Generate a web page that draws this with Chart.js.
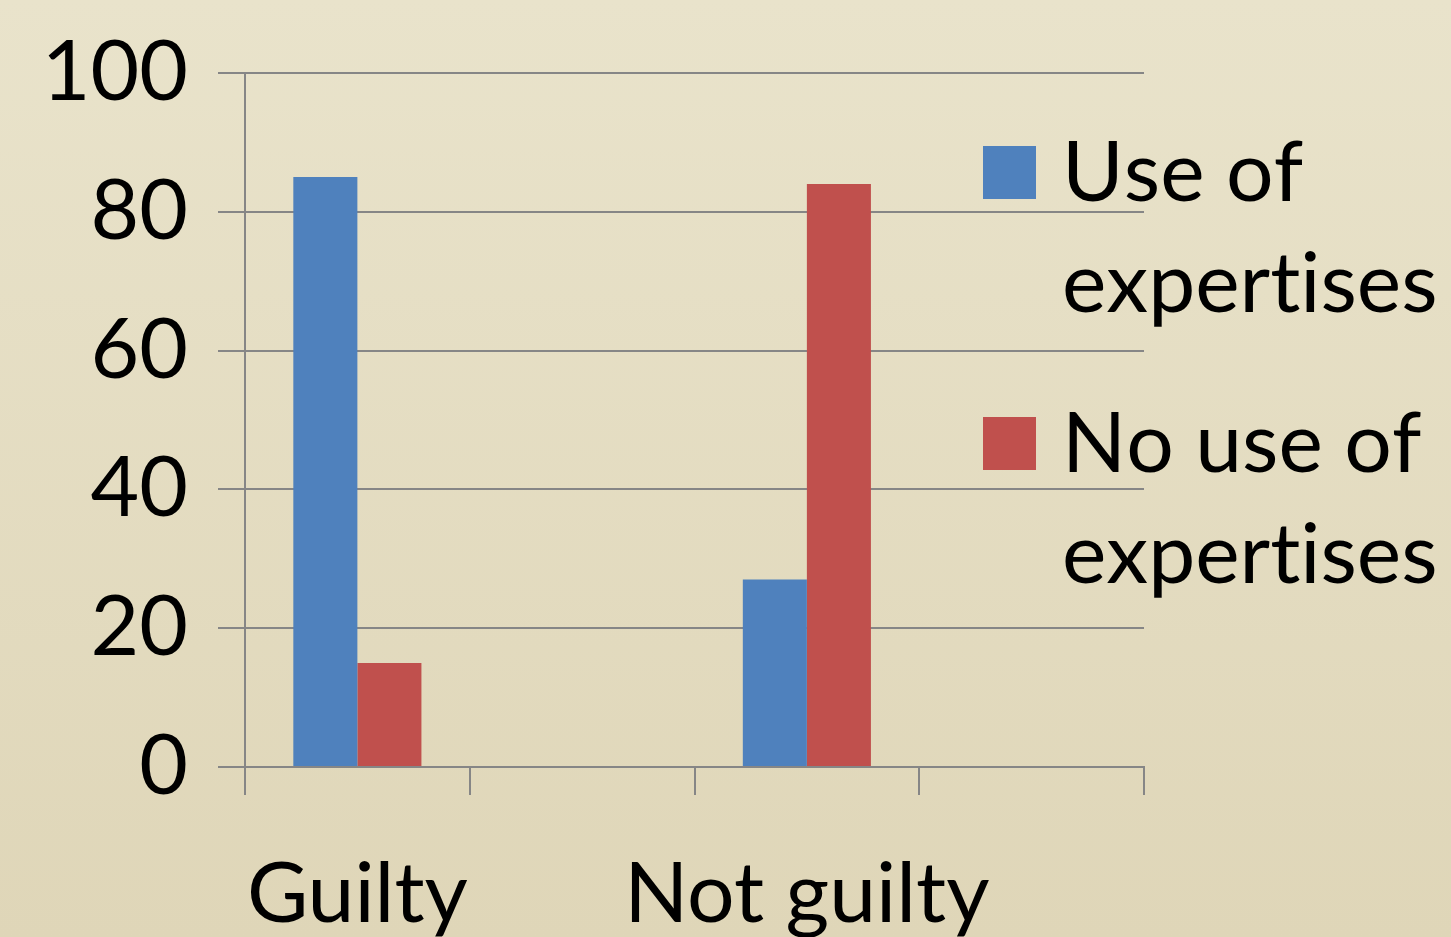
<!DOCTYPE html>
<html>
<head>
<meta charset="utf-8">
<script src="https://cdn.jsdelivr.net/npm/chart.js@4"></script>
<style>
  html, body {
    margin: 0;
    padding: 0;
    width: 1451px;
    height: 937px;
    overflow: hidden;
    background: linear-gradient(to bottom, #e9e3cb, #dfd6b8);
  }
  #wrap { position: relative; width: 1451px; height: 937px; }
</style>
</head>
<body>
<div id="wrap"><canvas id="chart"></canvas></div>
<script>
const categories = ["Guilty", "", "Not guilty", ""];
const useOfExpertises = [85, null, 27, null];
const noUseOfExpertises = [15, null, 84, null];
const seriesNames = [["Use of", "expertises"], ["No use of", "expertises"]];
const yTicks = [0, 20, 40, 60, 80, 100];

const fontFamily = "Lato, 'Open Sans', sans-serif";
const gridColor = "#868686";

// draws char by char so Lato's "ti" ligature doesn't kick in
function drawPlain(ctx, text, x, y) {
  let cx = x;
  for (const ch of text) {
    ctx.fillText(ch, cx, y);
    cx += ctx.measureText(ch).width;
  }
}

// legend on the right, two-line labels
const sideLegend = {
  id: "sideLegend",
  afterDraw(chart) {
    const ctx = chart.ctx;
    ctx.save();
    ctx.font = `84px ${fontFamily}`;
    ctx.textBaseline = "alphabetic";
    chart.data.datasets.forEach((ds, i) => {
      const top = 146 + i * 271;
      ctx.fillStyle = ds.backgroundColor;
      ctx.fillRect(983, top, 53, 53);
      ctx.fillStyle = "#000";
      ds.label.forEach((line, j) => {
        drawPlain(ctx, line, 1062, top + 55 + j * 111);
      });
    });
    ctx.restore();
  },
};

new Chart(document.getElementById("chart"), {
  type: "bar",
  data: {
    labels: categories,
    datasets: [
      {
        label: seriesNames[0],
        data: useOfExpertises,
        backgroundColor: "#4f81bd",
        borderWidth: 0,
      },
      {
        label: seriesNames[1],
        data: noUseOfExpertises,
        backgroundColor: "#c0504d",
        borderWidth: 0,
      },
    ],
  },
  options: {
    responsive: true,
    maintainAspectRatio: false,
    animation: false,
    categoryPercentage: 0.57,
    barPercentage: 1.0,
    layout: { padding: { top: 73, right: 307, left: 0, bottom: 0 } },
    plugins: {
      legend: { display: false },
      tooltip: { enabled: false },
    },
    scales: {
      x: {
        offset: true,
        afterFit: (scale) => {
          scale.height = 170;
        },
        grid: {
          offset: true,
          drawOnChartArea: false,
          drawTicks: true,
          tickLength: 28,
          color: gridColor,
          lineWidth: 2,
        },
        border: { display: true, color: gridColor, width: 2 },
        ticks: {
          color: "#000",
          font: { family: fontFamily, size: 84 },
          padding: 50,
          maxRotation: 0,
          autoSkip: false,
        },
      },
      y: {
        min: 0,
        max: 100,
        afterFit: (scale) => {
          scale.width = 245;
          scale.paddingTop = 0;
          scale.paddingBottom = 0;
        },
        afterBuildTicks: (scale) => {
          scale.ticks = yTicks.map((v) => ({ value: v }));
        },
        grid: {
          drawOnChartArea: true,
          drawTicks: true,
          tickLength: 27,
          color: gridColor,
          lineWidth: 2,
        },
        border: { display: true, color: gridColor, width: 2 },
        ticks: {
          color: "#000",
          font: { family: fontFamily, size: 84 },
          padding: 30,
        },
      },
    },
  },
  plugins: [sideLegend],
});
</script>
</body>
</html>
